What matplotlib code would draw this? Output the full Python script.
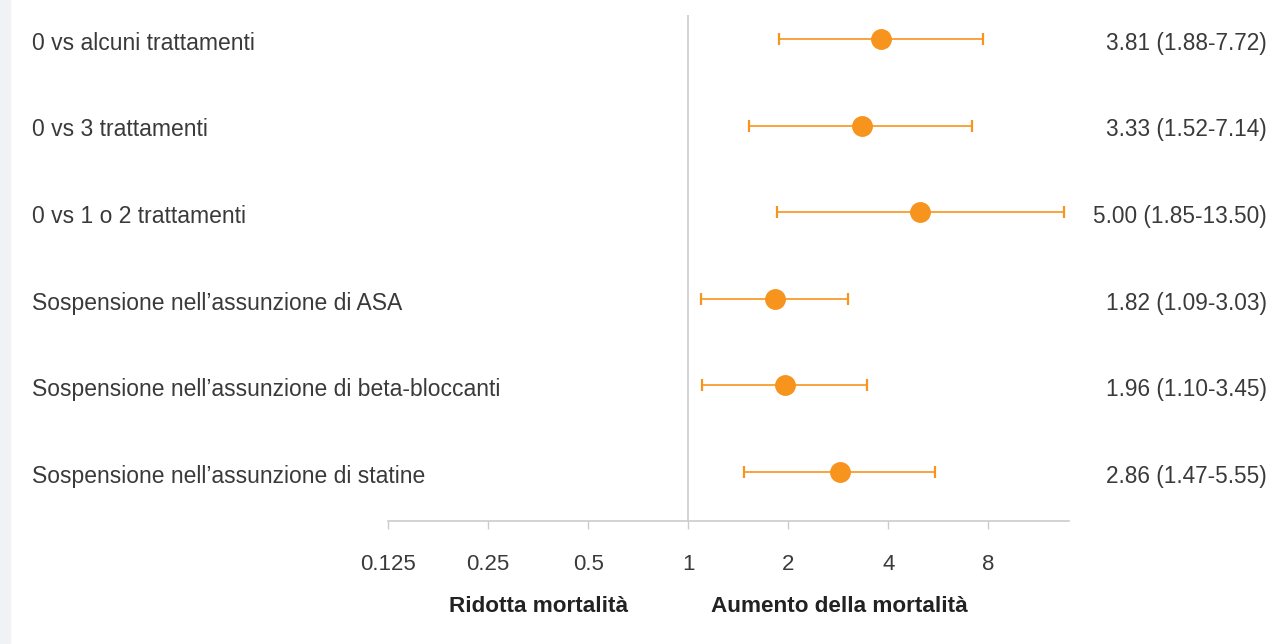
import numpy as np
import matplotlib
matplotlib.use('Agg')
import matplotlib.pyplot as plt
import matplotlib.transforms as mtransforms
from matplotlib.patches import Rectangle

# data
labels = [
    '0 vs alcuni trattamenti',
    '0 vs 3 trattamenti',
    '0 vs 1 o 2 trattamenti',
    'Sospensione nell\u2019assunzione di ASA',
    'Sospensione nell\u2019assunzione di beta-bloccanti',
    'Sospensione nell\u2019assunzione di statine',
]
hr = [3.81, 3.33, 5.00, 1.82, 1.96, 2.86]
ci_low = [1.88, 1.52, 1.85, 1.09, 1.10, 1.47]
ci_high = [7.72, 7.14, 13.50, 3.03, 3.45, 5.55]
tick_vals = [0.125, 0.25, 0.5, 1, 2, 4, 8]
tick_labels = ['0.125', '0.25', '0.5', '1', '2', '4', '8']

orange = '#f7941d'
text_col = '#3a3a3a'
line_col = '#cccccc'

plt.rcParams['font.family'] = ['Liberation Sans', 'DejaVu Sans']

W, H = 1271, 644
fig = plt.figure(figsize=(W / 100, H / 100), dpi=100)
fig.patches.append(Rectangle((0, 0), 10 / W, 1, transform=fig.transFigure,
                             color='#f0f2f5', zorder=0))

ax = fig.add_axes([388 / W, 1 - 521 / H, (1069 - 388) / W, (521 - 15) / H])
ax.set_xscale('log', base=2)
ax.set_xlim(0.125, 14.0)
ax.set_ylim(5.566, -0.277)

y = np.arange(len(labels))
hr = np.array(hr)
err = np.vstack([hr - np.array(ci_low), np.array(ci_high) - hr])
ax.errorbar(hr, y, xerr=err, fmt='none', ecolor=orange, elinewidth=1.2,
            capsize=4, capthick=1.6, zorder=3)
ax.plot(hr, y, 'o', color=orange, markersize=14, zorder=4)

ax.axvline(1, color=line_col, lw=1.2, zorder=1)

for s in ['top', 'right', 'left']:
    ax.spines[s].set_visible(False)
ax.spines['bottom'].set_color(line_col)
ax.spines['bottom'].set_linewidth(1.2)
ax.set_yticks([])
ax.set_xticks(tick_vals)
ax.set_xticklabels(tick_labels)
ax.xaxis.set_minor_locator(matplotlib.ticker.NullLocator())
ax.tick_params(axis='x', length=6, width=1, color=line_col, pad=18,
               labelsize=16, labelcolor=text_col)

trans = mtransforms.blended_transform_factory(fig.transFigure, ax.transData)
for i, lab in enumerate(labels):
    ax.text(32 / W, i + 0.05, lab, transform=trans, ha='left', va='center',
            fontsize=16.5, color=text_col, clip_on=False)
    ax.text(1267 / W, i + 0.05, f'{hr[i]:.2f} ({ci_low[i]:.2f}-{ci_high[i]:.2f})',
            transform=trans, ha='right', va='center', fontsize=16.3,
            color=text_col, clip_on=False)

trans2 = mtransforms.blended_transform_factory(ax.transData, fig.transFigure)
ax.text(0.66, 1 - 607 / H, 'Ridotta mortalit\u00e0', transform=trans2, ha='right',
        va='center', fontsize=16.2, fontweight='bold', color='#222222')
ax.text(1.17, 1 - 607 / H, 'Aumento della mortalit\u00e0', transform=trans2, ha='left',
        va='center', fontsize=16.2, fontweight='bold', color='#222222')

fig.savefig('out.png', dpi=100)
